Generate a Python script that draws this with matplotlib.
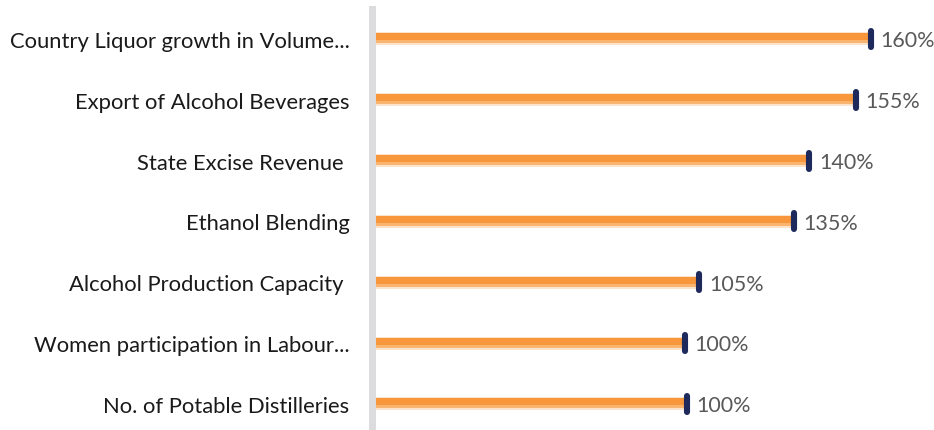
import matplotlib
matplotlib.use("Agg")
import matplotlib.pyplot as plt

categories = [
    "Country Liquor growth in Volume...",
    "Export of Alcohol Beverages",
    "State Excise Revenue ",
    "Ethanol Blending",
    "Alcohol Production Capacity ",
    "Women participation in Labour...",
    "No. of Potable Distilleries",
]
values = [160, 155, 140, 135, 104.5, 99.8, 100.4]
labels = ["160%", "155%", "140%", "135%", "105%", "100%", "100%"]

plt.rcParams["font.family"] = ["Lato", "DejaVu Sans"]

W, H = 934, 431
fig = plt.figure(figsize=(W / 100, H / 100), dpi=100)
# axes: data zero at x=376px, top at y=10px
ax = fig.add_axes([376 / W, 0, 1 - 376 / W, (H - 10) / H])

px = 1 / 60.83  # one pixel in y data units
ypos = list(range(len(categories)))

# bar with a simple vertical gradient (three layers)
ax.barh(ypos, values, height=13 * px, color="#FCE3CB", align="center")
ax.barh([y - 0.5 * px for y in ypos], values, height=10 * px, color="#F9B46F")
ax.barh([y - 2 * px for y in ypos], values, height=7 * px, color="#F7963A")

# rounded end caps
ax.vlines(values, [y - 8 * px for y in ypos], [y + 8 * px for y in ypos],
          colors="#1F2A5C", linewidth=4.4, capstyle="round", zorder=3)

for y, v, lab in zip(ypos, values, labels):
    ax.annotate(lab, (v, y), xytext=(7, -1), textcoords="offset points",
                va="center", ha="left", fontsize=15.5, color="#595959")

ax.set_yticks(ypos)
ax.set_yticklabels(categories)
ax.tick_params(axis="y", length=0, pad=16, labelsize=15.8, labelcolor="#1A1A1A")
ax.set_xticks([])
ax.set_xlim(0, (W - 376) / 3.094)
ax.set_ylim(6.43, -0.493)

for s in ["top", "right", "bottom"]:
    ax.spines[s].set_visible(False)
ax.spines["left"].set_position(("outward", 3))
ax.spines["left"].set_linewidth(5.0)
ax.spines["left"].set_color("#DCDCDE")

fig.savefig("out.png", dpi=100)
